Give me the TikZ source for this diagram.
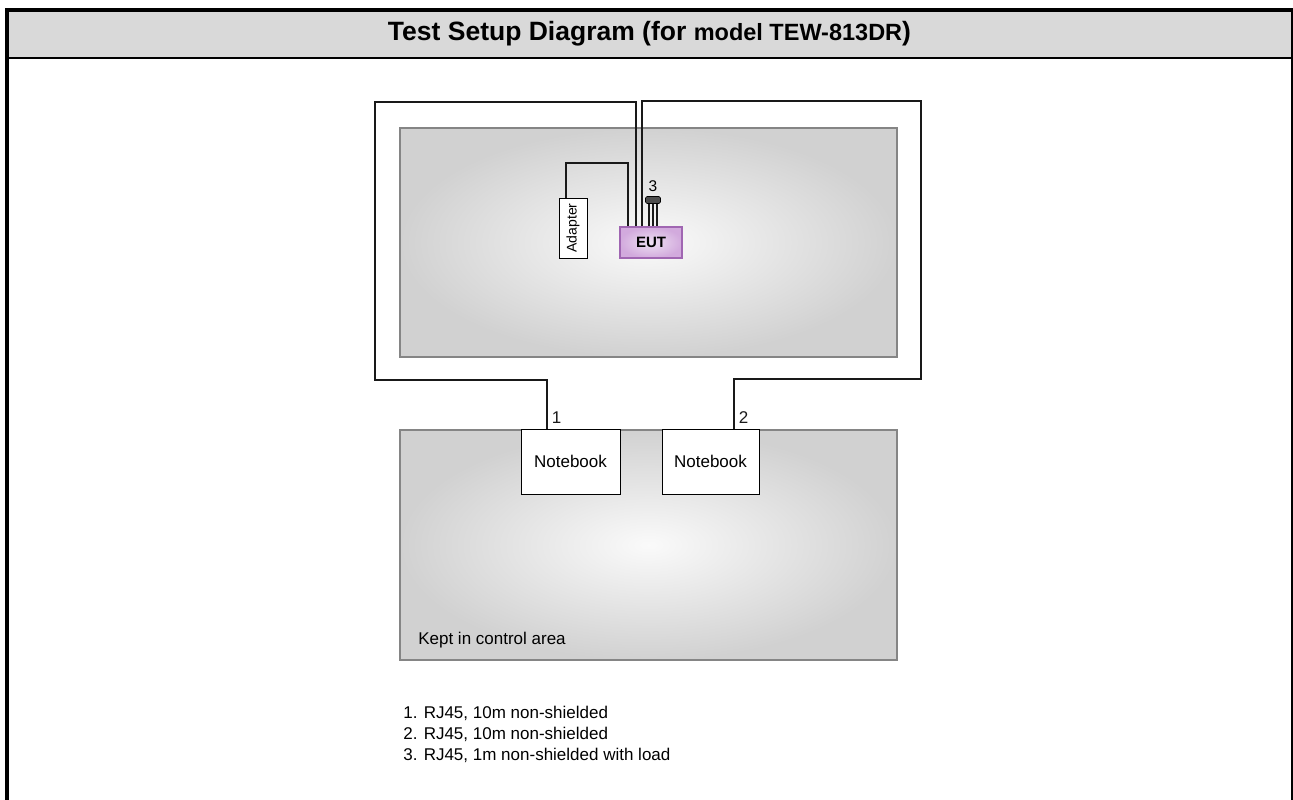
\documentclass[tikz,border=0pt]{standalone}
\usepackage{fontspec}
\setmainfont{Liberation Sans}
\usetikzlibrary{positioning}
\definecolor{bandgray}{HTML}{D9D9D9}
\definecolor{zoneedge}{HTML}{858585}
\definecolor{eutfill}{HTML}{D2AADD}
\definecolor{eutlight}{HTML}{EEE0F2}
\definecolor{eutdraw}{HTML}{A066B2}
\newcommand{\fsz}[2]{\fontsize{#1}{#2}\selectfont}

\begin{document}
\begin{tikzpicture}[x=1pt,y=-1pt,node distance=41pt,semithick]
  \tikzstyle{zone}=[rectangle,draw=zoneedge,line width=1.5pt,
    inner color=black!2,outer color=black!18,minimum width=497pt,inner sep=0pt]
  \tikzstyle{device}=[rectangle,draw=black,fill=white,line width=1pt,
    minimum height=65pt,inner sep=0pt,font=\fsz{17}{21}]
  \tikzstyle{cable}=[line width=1.5pt,black!90]
  \tikzstyle{cabletag}=[inner sep=4pt,font=\fsz{17}{21}]
  \tikzstyle{plain}=[inner sep=0pt,font=\fsz{17}{21}]
  \useasboundingbox (0,0) rectangle (1293,800);
  % title band and frame
  \node[fill=bandgray,minimum width=1284pt,minimum height=48pt,inner sep=0pt] (band) at (649.5,34) {};
  \node[font=\bfseries] (title) at (band.center)
    {\fsz{26.5}{30}Test Setup Diagram (for \fsz{23.5}{30}model TEW-813DR\fsz{26.5}{30})};
  \draw[line width=4pt] (7,800) -- (7,10) -- (1292.5,10) -- (1292.5,800);
  \draw[line width=2pt] (7,58.3) -- (1292.5,58.3);
  % test areas
  \node[zone,minimum height=229pt] (room) at (648.5,242.5) {};
  \node[zone,minimum height=230pt] (ctrl) at (648.5,545) {};
  \node[plain,anchor=west] (ctrltext) at (418,640) {Kept in control area};
  % equipment
  \node[rectangle,draw=black,fill=white,line width=1pt,minimum width=28pt,minimum height=60pt,
        inner sep=0pt,font=\fsz{14}{16}] (adapter) at (573,228) {\rotatebox{90}{Adapter}};
  \node[rectangle,draw=eutdraw,inner color=eutlight,outer color=eutfill,line width=1.2pt,
        minimum width=62pt,minimum height=31pt,inner sep=0pt,font=\bfseries\fsz{15}{18}] (eut) at (651,242.5) {EUT};
  \node[rectangle,draw=black,fill=black!70,rounded corners=1.5pt,minimum width=15pt,
        minimum height=7pt,inner sep=0pt] (plug) at (653,200) {};
  \node[inner sep=0pt,font=\fsz{15.5}{18},above=4pt of plug] (tag3) {3};
  \node[device,minimum width=99pt] (nb1) at (570.5,461.5) {Notebook};
  \node[device,minimum width=97pt,right=of nb1] (nb2) {Notebook};
  % cables
  \draw[cable] ([xshift=-7pt]adapter.north) |- (628,163) -- ([xshift=-23pt]eut.north);
  \draw[cable] ([xshift=-15pt]eut.north) |- (375,102) -- (375,380)
    -| node[cabletag,pos=1,anchor=south west] {1} ([xshift=-23.5pt]nb1.north);
  \draw[cable] ([xshift=-9pt]eut.north) |- (921,101) -- (921,379)
    -| node[cabletag,pos=1,anchor=south west] {2} ([xshift=23.5pt]nb2.north);
  \foreach \dx in {-4,0,4}
    \draw[cable,line width=1.2pt] ([xshift=\dx pt]plug.south) -- ([xshift=\dx pt]plug.south |- eut.north);
  % cable list
  \node[plain,anchor=west,align=left] (notes) at (403,734)
    {1. RJ45, 10m non-shielded\\2. RJ45, 10m non-shielded\\3. RJ45, 1m non-shielded with load};
\end{tikzpicture}
\end{document}
